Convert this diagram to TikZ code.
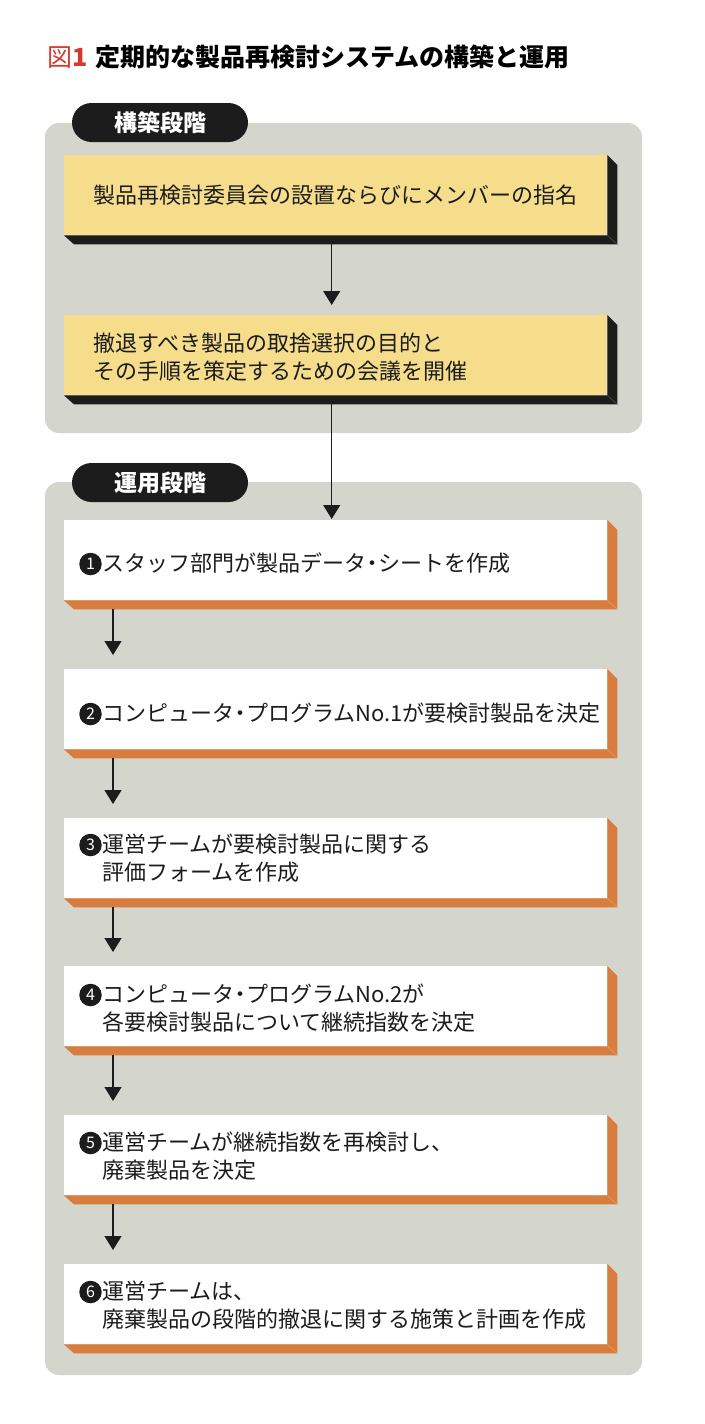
\documentclass[tikz,border=0pt]{standalone}
\usepackage{fontspec}
\setmainfont{Noto Sans CJK JP}
\usetikzlibrary{arrows.meta}
\definecolor{panel}{HTML}{D4D5CD}
\definecolor{ylw}{HTML}{F6DD8C}
\definecolor{org}{HTML}{D97D3F}
\definecolor{orgline}{HTML}{E89A62}
\definecolor{blk}{HTML}{1C1C1C}
\definecolor{ttlred}{HTML}{D23A2E}
\newcommand\ndot{\hspace{-5pt}・\hspace{-5pt}}
\begin{document}
\begin{tikzpicture}[x=1pt,y=-1pt,
  panelbox/.style={fill=panel, rounded corners=14pt},
  pill/.style={fill=blk, rounded corners=19.5pt, minimum width=176pt, minimum height=39pt,
    text=white, font=\fontsize{23}{25}\selectfont\bfseries, inner sep=0pt},
  face/.style={minimum width=543pt, minimum height=80pt, inner sep=0pt, anchor=north west},
  yface/.style={face, fill=ylw},
  oface/.style={face, fill=white},
  txt/.style={anchor=west, align=left, font=\fontsize{22}{28}\selectfont, inner sep=0pt, text=blk},
  numc/.style={circle, fill=blk, text=white, minimum size=22.5pt, inner sep=0pt,
    font=\fontsize{16}{16}\selectfont},
  arr/.style={-{Triangle[width=17pt,length=14pt]}, line width=1.3pt, draw=blk}
]
\useasboundingbox (0,0) rectangle (704,1424);
\fill[white] (0,0) rectangle (704,1424);

% title
\node[anchor=west, inner sep=0pt, font=\fontsize{25}{27}\selectfont] (title) at (47,57)
  {{\color{ttlred}図\textbf{1}}\hspace{8pt}\textbf{定期的な製品再検討システムの構築と運用}};

% panels
\fill[panelbox] (45,123) rectangle (642,433);
\fill[panelbox] (45,482) rectangle (642,1375);
\node[pill] (p1) at (160,122.5) {構築段階};
\node[pill] (p2) at (160,482.5) {運用段階};

% yellow boxes
\foreach \n/\t in {y1/155, y2/315}{
  \node[yface] (\n) at (64,\t) {};
  \fill[blk] (\n.south west) -- (\n.south east) -- (\n.north east)
    -- ([shift={(10,10)}]\n.north east) -- ([shift={(10,9)}]\n.south east)
    -- ([shift={(10,9)}]\n.south west) -- cycle;
  \draw[gray!60!black, line width=0.6pt] (\n.south east) -- ([shift={(10,9)}]\n.south east);
}
\node[txt] (t1) at (93,195) {製品再検討委員会の設置ならびにメンバーの指名};
\node[txt] (t2) at (93,357) {撤退すべき製品の取捨選択の目的と\\その手順を策定するための会議を開催};

% orange boxes
\foreach \n/\t in {o1/520, o2/669, o3/818, o4/966, o5/1115, o6/1264}{
  \node[oface] (\n) at (64,\t) {};
  \fill[org] (\n.south west) -- (\n.south east) -- (\n.north east)
    -- ([shift={(10,10)}]\n.north east) -- ([shift={(10,9)}]\n.south east)
    -- ([shift={(10,9)}]\n.south west) -- cycle;
  \draw[orgline, line width=0.6pt] (\n.south east) -- ([shift={(10,9)}]\n.south east);
}
\node[numc] (c1) at (90.5,564) {1};
\node[txt] (u1) at (102,563) {スタッフ部門が製品データ\ndot シートを作成};
\node[numc] (c2) at (90.5,714) {2};
\node[txt] (u2) at (102,713) {コンピュータ\ndot プログラムNo.1が要検討製品を決定};
\node[numc] (c3) at (90.5,845) {3};
\node[txt] (u3) at (102,858) {運営チームが要検討製品に関する\\評価フォームを作成};
\node[numc] (c4) at (90.5,995) {4};
\node[txt] (u4) at (102,1008) {コンピュータ\ndot プログラムNo.2が\\各要検討製品について継続指数を決定};
\node[numc] (c5) at (90.5,1143) {5};
\node[txt] (u5) at (102,1156) {運営チームが継続指数を再検討し、\\廃棄製品を決定};
\node[numc] (c6) at (90.5,1292) {6};
\node[txt] (u6) at (102,1305) {運営チームは、\\廃棄製品の段階的撤退に関する施策と計画を作成};

% arrows
\draw[arr] ([xshift=-4pt,yshift=-9pt]y1.south) -- ([xshift=-4pt,yshift=10pt]y2.north);
\draw[arr] ([xshift=-4pt,yshift=-9pt]y2.south) -- ([xshift=-4pt,yshift=1pt]o1.north);
\foreach \a/\b in {o1/o2, o2/o3, o3/o4, o4/o5, o5/o6}{
  \draw[arr] ([xshift=49pt,yshift=-9pt]\a.south west) -- ([xshift=49pt,yshift=14pt]\b.north west);
}
\end{tikzpicture}
\end{document}
